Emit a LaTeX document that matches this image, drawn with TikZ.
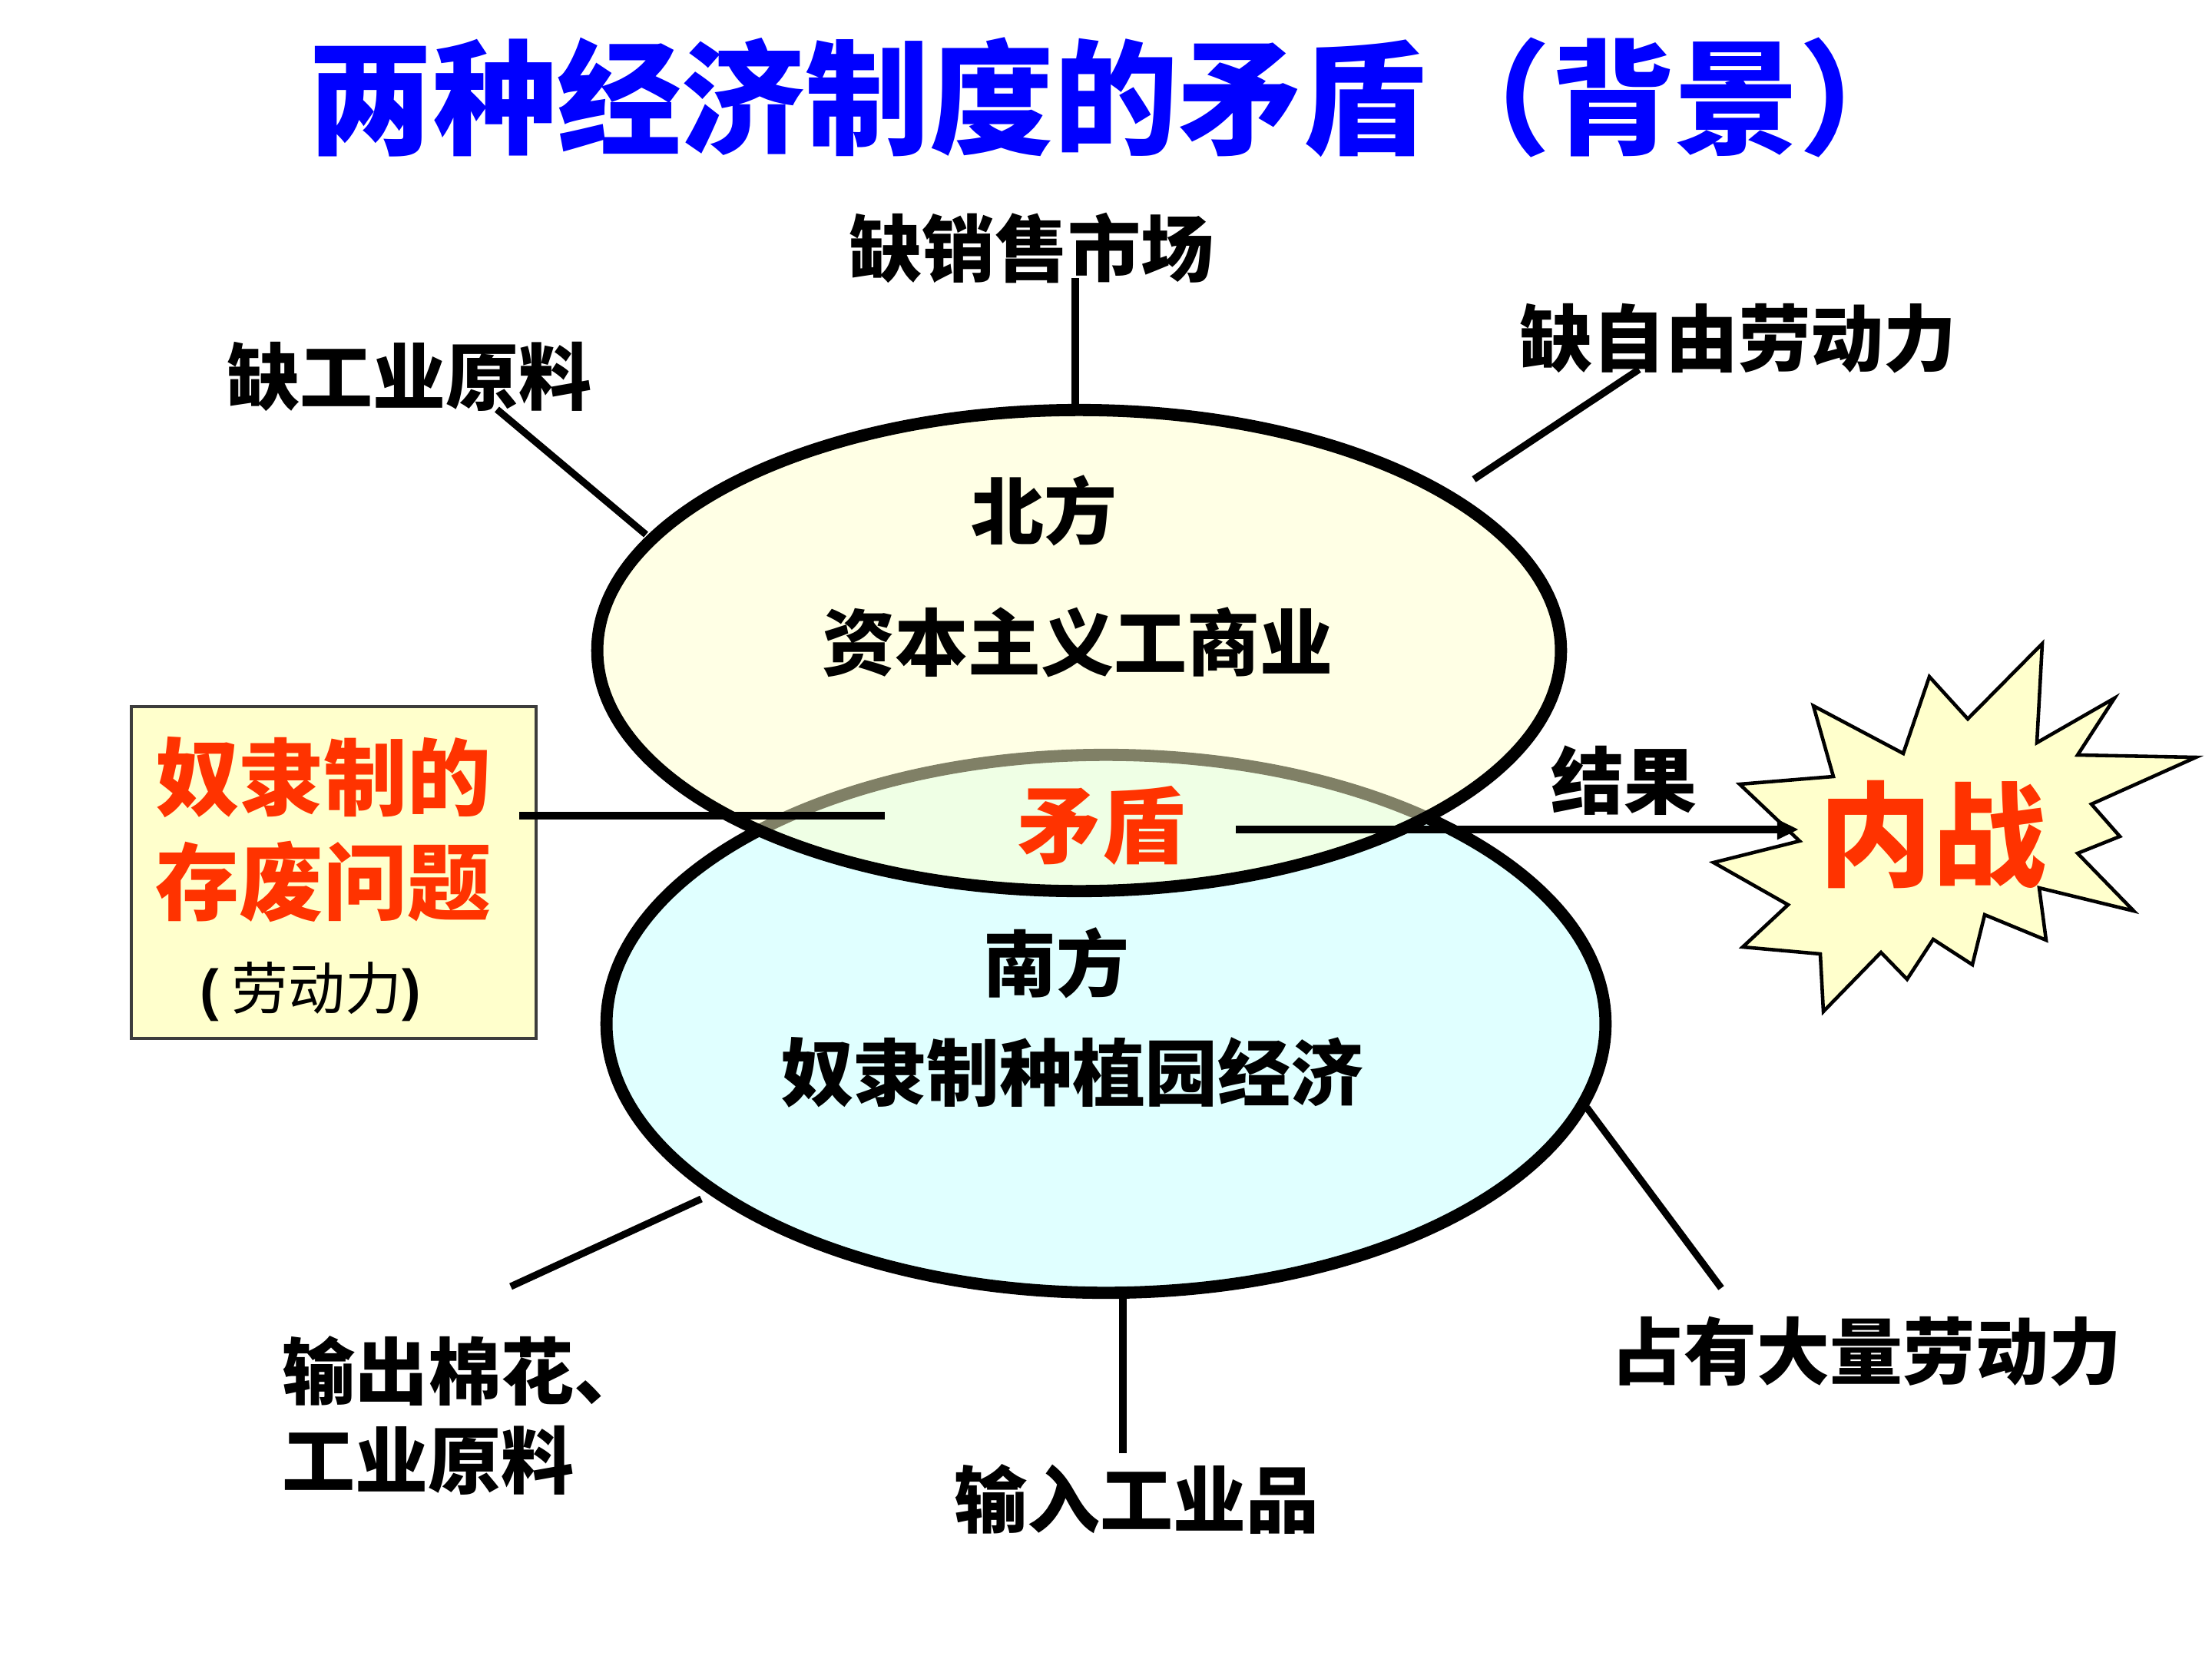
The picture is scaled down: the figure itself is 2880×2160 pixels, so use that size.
\documentclass[tikz,border=0pt]{standalone}
\usepackage{fontspec}
\newfontfamily\cjk{Noto Sans CJK SC}
\newfontfamily\arial{Liberation Sans}
\usetikzlibrary{arrows.meta}
\definecolor{titleblue}{RGB}{0,0,255}
\definecolor{hot}{RGB}{255,51,0}
\definecolor{paleyellow}{RGB}{255,255,204}
\definecolor{palecyan}{RGB}{224,255,255}
\definecolor{boxline}{RGB}{60,60,60}
\tikzset{
  lbl/.style={font=\cjk\bfseries\fontsize{27}{33}\selectfont, inner sep=0pt},
  redlbl/.style={font=\cjk\bfseries\fontsize{31}{36}\selectfont, text=hot, inner sep=0pt},
  link/.style={line width=2.6pt, line cap=butt},
  oval/.style={line width=4.5pt, draw=black},
}
\begin{document}
\begin{tikzpicture}[x=0.01cm,y=-0.01cm]
\useasboundingbox (0,0) rectangle (2880,2160);

% title
\node[inner sep=0pt, text=titleblue, font=\cjk\bfseries\fontsize{46}{52}\selectfont] (title) at (1453,127) {两种经济制度的矛盾（背景）};

% ellipses
\path[oval, fill=palecyan] (1440,1333) ellipse [x radius=6.5cm, y radius=3.5cm];
\path[oval, fill=paleyellow, fill opacity=0.5] (1405,847) ellipse [x radius=6.27cm, y radius=3.13cm];

% ellipse texts
\node[lbl] (north) at (1359,665) {北方};
\node[lbl] (northecon) at (1403,836) {资本主义工商业};
\node[lbl] (south) at (1375,1254) {南方};
\node[lbl] (southecon) at (1396,1396) {奴隶制种植园经济};
\node[redlbl] (maodun) at (1434,1075) {矛盾};

% outer labels
\node[lbl] (t1) at (1343,323) {缺销售市场};
\node[lbl] (t2) at (533,490) {缺工业原料};
\node[lbl] (t3) at (2263,441) {缺自由劳动力};
\node[lbl, align=left, anchor=west] (t4) at (367,1843) {输出棉花、\\工业原料};
\node[lbl] (t5) at (1480,1952) {输入工业品};
\node[lbl] (t6) at (2430,1760) {占有大量劳动力};
\node[lbl] (result) at (2114,1016) {结果};

% left box
\node[draw=boxline, line width=1pt, fill=paleyellow, minimum width=5.27cm, minimum height=4.32cm, inner sep=0pt] (box) at (434.5,1136) {};
\node[redlbl] (b1) at (421,1012) {奴隶制的};
\node[redlbl] (b2) at (421,1148) {存废问题};
\node[inner sep=0pt, font=\cjk\fontsize{21}{25}\selectfont] (b3) at (404,1291) {{\arial\bfseries(} 劳动力{\arial\bfseries)}};

% starburst
\path[draw=black, line width=1.3pt, fill=paleyellow, line join=miter]
 (2659,838) -- (2652,967) -- (2753,909) -- (2705,983) -- (2859,986) -- (2723,1047)
 -- (2760,1089) -- (2705,1111) -- (2778,1186) -- (2655,1156) -- (2664,1224) -- (2584,1191)
 -- (2568,1256) -- (2517,1223) -- (2483,1275) -- (2449,1240) -- (2374,1317) -- (2370,1242)
 -- (2269,1233) -- (2328,1178) -- (2231,1123) -- (2343,1095) -- (2265,1021) -- (2387,1011)
 -- (2361,919) -- (2478,981) -- (2512,881) -- (2562,936) -- cycle;
\node[inner sep=0pt, text=hot, font=\cjk\bfseries\fontsize{42}{48}\selectfont] (war) at (2516,1087) {内战};

% connector end points
\coordinate (c1a) at (1400,362);  \coordinate (c1b) at (1400,534);
\coordinate (c2a) at (647,533);   \coordinate (c2b) at (841,696);
\coordinate (c3a) at (2134,481);  \coordinate (c3b) at (1919,624);
\coordinate (c4a) at (665,1675);  \coordinate (c4b) at (913,1561);
\coordinate (c5a) at (1462,1892); \coordinate (c5b) at (1462,1686);
\coordinate (c6a) at (2241,1677); \coordinate (c6b) at (2066,1442);
\coordinate (boxout) at (676,1062); \coordinate (boxin) at (1152,1062);
\coordinate (arrfrom) at (1609,1080); \coordinate (arrto) at (2342,1080);

% connectors
\draw[link] (c1a) -- (c1b);
\draw[link] (c2a) -- (c2b);
\draw[link] (c3a) -- (c3b);
\draw[link] (c4a) -- (c4b);
\draw[link] (c5a) -- (c5b);
\draw[link] (c6a) -- (c6b);
\draw[link] (boxout) -- (boxin);
\draw[link, -{Triangle[length=8pt, width=7pt]}] (arrfrom) -- (arrto);
\end{tikzpicture}
\end{document}
